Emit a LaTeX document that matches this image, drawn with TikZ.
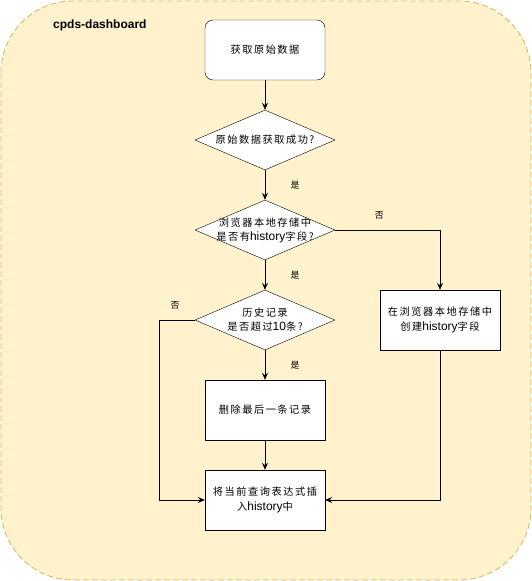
\documentclass[tikz,border=0pt]{standalone}
\usepackage{fontspec}
\setmainfont{Liberation Sans}
\newfontfamily\cjk[Scale=0.85,LetterSpace=15]{Noto Sans CJK SC}
\usetikzlibrary{arrows.meta,shapes.geometric}
\definecolor{bgfill}{HTML}{FFF2CC}
\definecolor{bgline}{HTML}{D6B656}
\begin{document}
\begin{tikzpicture}[x=1pt,y=-1pt,
   box/.style={draw,fill=white,minimum width=120pt,minimum height=60pt,align=center,font=\fontsize{12}{15}\selectfont},
   decision/.style={draw,fill=white,diamond,aspect=2.333,inner sep=0pt,minimum width=140pt,minimum height=60pt,
      label={[align=center,font=\fontsize{12}{14}\selectfont]center:#1}},
   flow/.style={-{Stealth[length=7pt,width=6pt,inset=2.5pt]},line width=0.8pt},
   lab/.style={font=\fontsize{10.5}{10.5}\selectfont\cjk}]
   \useasboundingbox (0,0) rectangle (532,581);
   \draw[fill=bgfill,draw=bgline,dashed,dash pattern=on 6pt off 3pt,rounded corners=72pt,line width=0.8pt]
     (1,1) rectangle (531,580);
   \node[anchor=west,inner sep=0pt,font=\fontsize{12}{12}\selectfont\bfseries] (title) at (53,25) {cpds-dashboard};

   \node[box,rounded corners=8pt] (fetch) at (265,50) {\cjk 获取原始数据};
   \node[decision={\cjk 原始数据获取成功?}] (ok) at (265,140) {};
   \node[decision={{\cjk 浏览器本地存储中}\\{\cjk 是否有}history{\cjk 字段?}}] (has) at (265,230) {};
   \node[decision={{\cjk 历史记录}\\{\cjk 是否超过}10{\cjk 条?}}] (over) at (265,320) {};
   \node[box] (create) at (440,320) {{\cjk 在浏览器本地存储中}\\{\cjk 创建}history{\cjk 字段}};
   \node[box] (del) at (265,410) {\cjk 删除最后一条记录};
   \node[box] (insert) at (265,500) {{\cjk 将当前查询表达式插}\\{\cjk 入}history{\cjk 中}};

   \draw[flow] (fetch) -- (ok);
   \draw[flow] (ok) -- (has) node[lab,pos=0.5,xshift=30pt] {是};
   \draw[flow] (has.east) -| (create.north) node[lab,pos=0.21,yshift=15pt] {否};
   \draw[flow] (has) -- (over) node[lab,pos=0.5,xshift=30pt] {是};
   \draw[flow] (over) -- (del) node[lab,pos=0.5,xshift=30pt] {是};
   \draw[flow] (over.west) -- ++(-35,0) coordinate (c1) |- (insert.west);
   \node[lab] (no2) at (175,305) {否};
   \draw[flow] (del) -- (insert);
   \draw[flow] (create.south) |- (insert.east);
\end{tikzpicture}
\end{document}
